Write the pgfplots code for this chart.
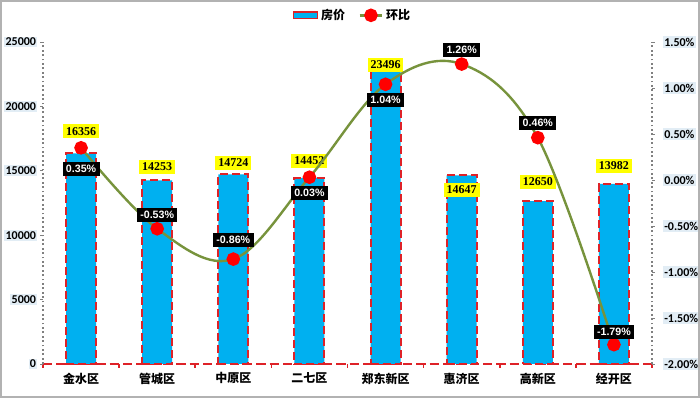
\documentclass[border=0pt]{standalone}
\usepackage{pgfplots}
\pgfplotsset{compat=1.18}
\usepackage{pgfplotstable}
\usepackage{fontspec}
\setmainfont{Carlito}
\newfontfamily\cjk{Noto Sans CJK SC}
\newfontfamily\serifnum{Liberation Serif}
\newfontfamily\sansnum{Liberation Sans}
\definecolor{barblue}{RGB}{0,176,240}
\definecolor{barred}{RGB}{222,34,40}
\definecolor{olive}{RGB}{119,147,60}
\definecolor{tickbg}{RGB}{226,237,245}
\definecolor{lblyellow}{RGB}{255,255,0}

\pgfplotstableread{
x y off
0 16356 16.5
1 14253 10
2 14724 8.5
3 14452 12.75
4 23496 -2.7
5 14647 -11
6 12650 14.25
7 13982 13.5
}\bardata

\pgfplotstableread{
x y off
0 0.35 -15.75
1 -0.53 10.5
2 -0.86 14.25
3 0.03 -12
4 1.04 -12
5 1.26 10.5
6 0.46 11.25
7 -1.79 9.75
}\linedata

\begin{document}
\begin{tikzpicture}
\useasboundingbox (0,0) rectangle (525pt,298.5pt);
\fill[white] (0,0) rectangle (525pt,298.5pt);
\begin{axis}[
  at={(32.25pt,25.5pt)}, anchor=south west,
  scale only axis, width=456.75pt, height=241.5pt,
  xmin=-0.5, xmax=7.5, ymin=0, ymax=25000,
  clip=false,
  axis x line*=bottom, axis y line*=left,
  x axis line style={barred, line width=1.6pt, dash pattern=on 7pt off 3pt, -},
  y axis line style={gray, line width=1.3pt, dotted, -},
  xtick={0,...,7},
  xticklabels={金水区,管城区,中原区,二七区,郑东新区,惠济区,高新区,经开区},
  xticklabel style={font=\cjk\bfseries\fontsize{9}{10}\selectfont, yshift=-1pt},
  minor xtick={-0.5,0.5,...,7.5},
  major x tick style={draw=none},
  minor x tick style={barred, line width=1.2pt},
  minor tick length=3pt,
  tick align=outside,
  ytick={0,5000,...,25000},
  y tick style={gray, line width=0.6pt},
  major tick length=2pt,
  yticklabel style={font=\bfseries\fontsize{9}{10}\selectfont, fill=tickbg, inner sep=1pt, xshift=-2pt},
  /pgf/number format/assume math mode=true,
  /pgf/number format/1000 sep={},
  scaled y ticks=false,
]
\addplot[ybar, bar width=22.5pt, fill=barblue, draw=barred, line width=1.5pt,
  dash pattern=on 6pt off 3pt,
  point meta=explicit symbolic,
  visualization depends on={\thisrow{off}\as\off},
  nodes near coords,
  every node near coord/.append style={anchor=center, yshift=\off pt, fill=lblyellow,
     text=black, font=\serifnum\bfseries\fontsize{9}{10}\selectfont, inner sep=2.2pt, solid}
] table[x=x, y=y, meta=y] {\bardata};
\end{axis}

\begin{axis}[
  at={(32.25pt,25.5pt)}, anchor=south west,
  scale only axis, width=456.75pt, height=241.5pt,
  xmin=-0.5, xmax=7.5, ymin=-2, ymax=1.5,
  clip=false,
  axis x line=none, axis y line*=right,
  y axis line style={gray, line width=1.3pt, dotted, -},
  ytick={-2,-1.5,...,1.5},
  y tick style={gray, line width=0.6pt},
  tick align=outside, major tick length=2pt,
  yticklabel={\pgfmathprintnumber[fixed,fixed zerofill,precision=2,assume math mode=true]{\tick}\%},
  yticklabel style={font=\bfseries\fontsize{9}{10}\selectfont, fill=tickbg, inner sep=1pt, xshift=6pt},
  legend style={at={(0.5,1)}, anchor=center, xshift=4pt, yshift=20pt, draw=none, fill=none,
     legend columns=2, font=\cjk\bfseries\fontsize{9}{10}\selectfont,
     /tikz/every even column/.append style={column sep=8pt}},
  legend cell align=left,
]
\addlegendimage{legend image code/.code={
  \draw[fill=barblue, draw=barred, line width=1.2pt] (0pt,-2.5pt) rectangle (18pt,2.5pt);}}
\addlegendentry{房价}
\addplot[smooth, tension=0.6, color=olive, line width=1.8pt,
  mark=*, mark size=4.2pt, mark options={fill=red, draw=red},
  point meta=explicit symbolic,
  visualization depends on={\thisrow{off}\as\off},
  nodes near coords={\pgfplotspointmeta\%},
  every node near coord/.append style={anchor=center, yshift=\off pt, fill=black,
     text=white, font=\sansnum\bfseries\fontsize{8}{9}\selectfont, inner sep=2.5pt}
] table[x=x, y=y, meta=y] {\linedata};
\addlegendentry{环比}
\end{axis}
\draw[gray!60, line width=1.5pt] (0.75pt,0.75pt) rectangle (524.25pt,297.75pt);
\end{tikzpicture}
\end{document}
